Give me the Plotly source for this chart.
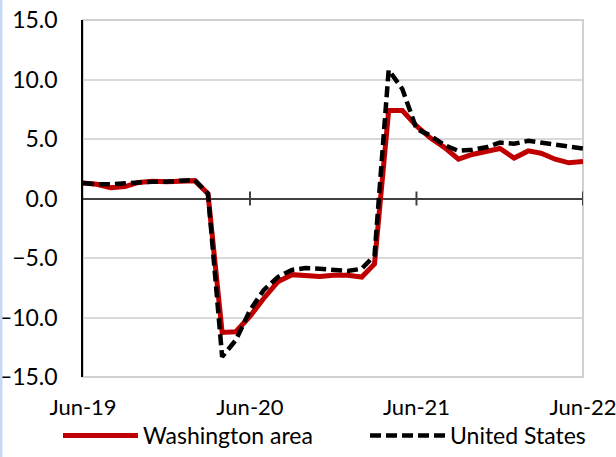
import pandas as pd
import plotly.graph_objects as go

months = pd.date_range("2019-06-01", periods=37, freq="MS")

washington = [1.3, 1.2, 0.9, 1.0, 1.35, 1.45, 1.4, 1.5, 1.5, 0.4,
              -11.25, -11.2, -9.9, -8.4, -7.0, -6.4, -6.5, -6.55, -6.45, -6.45,
              -6.6, -5.5, 7.4, 7.4, 6.1, 5.1, 4.3, 3.3, 3.7, 4.0,
              4.2, 3.4, 4.0, 3.8, 3.3, 3.0, 3.1]
united_states = [1.3, 1.2, 1.2, 1.3, 1.35, 1.4, 1.4, 1.5, 1.55, 0.4,
                 -13.3, -11.9, -9.4, -7.7, -6.6, -6.0, -5.85, -5.9, -6.0, -6.1,
                 -5.9, -4.8, 10.8, 9.2, 5.85, 5.3, 4.5, 4.0, 4.1, 4.3,
                 4.7, 4.6, 4.85, 4.7, 4.5, 4.4, 4.2]

tick_dates = ["2019-06-01", "2020-06-01", "2021-06-01", "2022-06-01"]
tick_text = ["Jun-19", "Jun-20", "Jun-21", "Jun-22"]
y_ticks = [-15, -10, -5, 0, 5, 10, 15]

font = "Lato"
fsize = 23

fig = go.Figure()
fig.add_trace(go.Scatter(x=months, y=washington, name="Washington area", mode="lines",
                         line=dict(color="#c00000", width=5), legend="legend"))
fig.add_trace(go.Scatter(x=months, y=united_states, name="United States", mode="lines",
                         line=dict(color="black", width=4.5, dash="11px,5px"), legend="legend2"))

# crossing tick marks on the zero line
for d in tick_dates[1:]:
    fig.add_shape(type="line", xref="x", yref="y", x0=d, x1=d,
                  ysizemode="pixel", yanchor=0, y0=-7, y1=7,
                  line=dict(color="#404040", width=2), layer="below")

# light plot-area border
fig.add_shape(type="rect", xref="paper", yref="paper", x0=0, x1=1, y0=0, y1=1,
              line=dict(color="#d0d0d0", width=2), layer="below")
# thin blue strip at the page edge
fig.add_shape(type="line", xref="paper", yref="paper", x0=-82 / 500, x1=-82 / 500, y0=-0.3, y1=1.1,
              line=dict(color="#c6d9f1", width=3))

fig.update_xaxes(range=[tick_dates[0], tick_dates[-1]], tickvals=tick_dates, ticktext=tick_text,
                 showgrid=False, ticks="", showline=False, automargin=False,
                 ticklabelstandoff=15, ticklabeloverflow="allow",
                 tickfont=dict(family=font, size=22, color="black"))
fig.update_yaxes(range=[-15, 15], tickvals=y_ticks, tickformat=".1f",
                 showgrid=True, gridcolor="#d9d9d9", gridwidth=1.5,
                 zeroline=True, zerolinecolor="#404040", zerolinewidth=2,
                 showline=True, linecolor="black", linewidth=1.5, ticks="",
                 ticklabelstandoff=19, automargin=False,
                 tickfont=dict(family=font, size=fsize, color="black"))

legend_style = dict(orientation="h", xanchor="left", xref="container",
                    y=-0.033, yanchor="bottom", yref="container",
                    bgcolor="rgba(0,0,0,0)",
                    font=dict(family=font, size=fsize, color="black"),
                    itemwidth=75)

fig.update_layout(
    width=616, height=457,
    margin=dict(l=83, r=33, t=20, b=80),
    plot_bgcolor="white", paper_bgcolor="white",
    showlegend=True,
    legend=dict(x=58 / 616, **legend_style),
    legend2=dict(x=365 / 616, **legend_style),
)

fig.write_html("out.html", config={"displayModeBar": False},
               post_script="document.body.style.margin='0';")
